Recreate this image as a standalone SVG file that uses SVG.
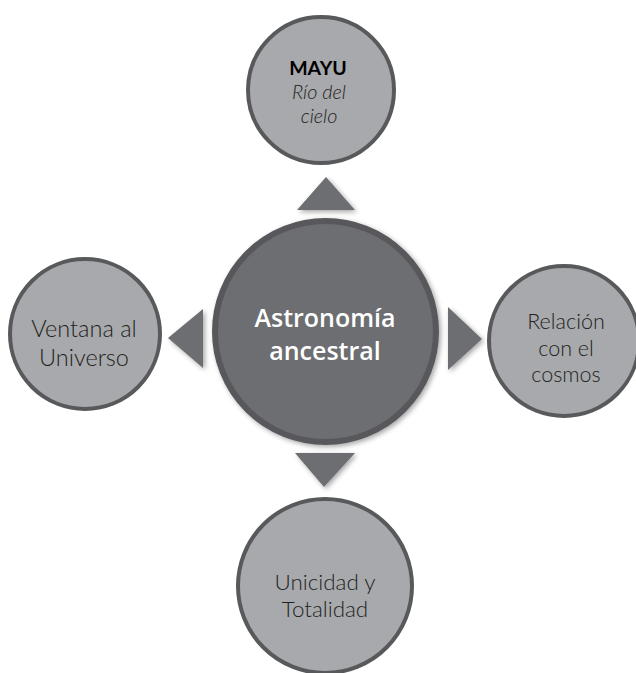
<svg xmlns="http://www.w3.org/2000/svg" width="636" height="673" viewBox="0 0 636 673">
<defs>
<filter id="sh" x="-30%" y="-30%" width="160%" height="160%">
<feDropShadow dx="2" dy="2" stdDeviation="2.5" flood-color="#000" flood-opacity="0.35"/>
</filter>
<style>
.outer{fill:#a7a9ac;stroke:#58595b;stroke-width:4}
.center{fill:#6d6e71;stroke:#58595b;stroke-width:6}
.tri{fill:#6d6e71;filter:url(#sh)}
.t{font-family:Lato,"Open Sans","Liberation Sans",sans-serif;font-weight:300;fill:#231f20;text-anchor:middle}
.ct{font-family:"Open Sans","Noto Sans","Liberation Sans",sans-serif;font-weight:600;fill:#ffffff;text-anchor:middle;font-size:25px}
</style>
</defs>
<rect width="636" height="673" fill="#ffffff"/>
<g id="connectors">
<polygon class="tri" points="297,210 355,210 326,177"/>
<polygon class="tri" points="203,309 203,368 168,338"/>
<polygon class="tri" points="448,307 448,370 482,339"/>
<polygon class="tri" points="295,453 355,453 324,487"/>
</g>
<g id="node-center">
<circle class="center" cx="325.5" cy="331.5" r="110.5" filter="url(#sh)"/>
<text class="ct" x="325" y="327">Astronomía</text>
<text class="ct" x="325" y="360">ancestral</text>
</g>
<g id="node-top">
<circle class="outer" cx="321" cy="90" r="73"/>
<text class="t" x="318" y="75" font-size="19.5" style="font-weight:700;fill:#000">MAYU</text>
<text class="t" x="319" y="99" font-size="19.8" font-style="italic">Río del</text>
<text class="t" x="319" y="123" font-size="19.8" font-style="italic">cielo</text>
</g>
<g id="node-left">
<circle class="outer" cx="85" cy="334" r="75"/>
<text class="t" x="84" y="337" font-size="23.5">Ventana al</text>
<text class="t" x="84" y="366" font-size="23.5">Universo</text>
</g>
<g id="node-right">
<circle class="outer" cx="564" cy="341" r="75"/>
<text class="t" x="566" y="329" font-size="21.5">Relación</text>
<text class="t" x="566" y="356" font-size="21.5">con el</text>
<text class="t" x="566" y="382" font-size="21.5">cosmos</text>
</g>
<g id="node-bottom">
<circle class="outer" cx="325" cy="586" r="87"/>
<text class="t" x="325" y="590" font-size="22.4">Unicidad y</text>
<text class="t" x="325" y="617" font-size="22.4">Totalidad</text>
</g>
</svg>
